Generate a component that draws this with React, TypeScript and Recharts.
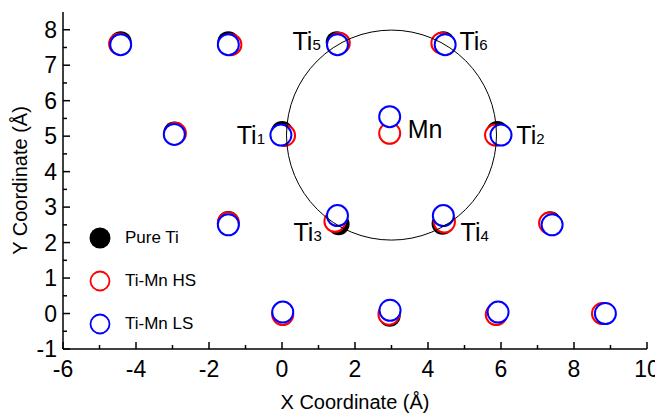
import React from 'react'
import { ScatterChart, Scatter, XAxis, YAxis, ReferenceDot } from 'recharts'

const pureTi = [
  { x: -4.42, y: 7.65 }, { x: -1.47, y: 7.65 }, { x: 1.5, y: 7.65 }, { x: 4.42, y: 7.65 },
  { x: -2.95, y: 5.1 }, { x: 0.0, y: 5.12 }, { x: 5.9, y: 5.12 },
  { x: -1.47, y: 2.58 }, { x: 1.55, y: 2.52 }, { x: 4.4, y: 2.53 }, { x: 7.35, y: 2.57 },
  { x: 0.02, y: 0.0 }, { x: 2.95, y: -0.06 }, { x: 5.88, y: 0.0 }, { x: 8.82, y: 0.0 },
]

const tiMnHS = [
  { x: -4.45, y: 7.6 }, { x: -1.4, y: 7.58 }, { x: 1.57, y: 7.62 }, { x: 4.38, y: 7.62 },
  { x: -2.92, y: 5.08 }, { x: 0.07, y: 5.02 }, { x: 2.95, y: 5.08 }, { x: 5.85, y: 5.03 },
  { x: -1.47, y: 2.56 }, { x: 1.45, y: 2.6 }, { x: 4.45, y: 2.58 }, { x: 7.33, y: 2.55 },
  { x: 0.02, y: -0.03 }, { x: 2.93, y: -0.02 }, { x: 5.87, y: -0.03 }, { x: 8.78, y: 0.0 },
]

const tiMnLS = [
  { x: -4.42, y: 7.58 }, { x: -1.47, y: 7.58 }, { x: 1.52, y: 7.58 }, { x: 4.47, y: 7.58 },
  { x: -2.95, y: 5.05 }, { x: -0.03, y: 5.03 }, { x: 2.95, y: 5.55 }, { x: 6.0, y: 5.03 },
  { x: -1.47, y: 2.5 }, { x: 1.52, y: 2.76 }, { x: 4.42, y: 2.76 }, { x: 7.4, y: 2.5 },
  { x: 0.02, y: 0.04 }, { x: 2.96, y: 0.09 }, { x: 5.92, y: 0.04 }, { x: 8.86, y: 0.0 },
]

// atom labels: name, subscript, anchor point, pixel offset of the text
const atomLabels = [
  { name: 'Ti', sub: '5', x: 1.5, y: 7.6, dx: -16, dy: 6, anchor: 'end' },
  { name: 'Ti', sub: '6', x: 4.45, y: 7.6, dx: 15, dy: 6, anchor: 'start' },
  { name: 'Ti', sub: '1', x: 0, y: 5.05, dx: -17, dy: 10, anchor: 'end' },
  { name: 'Mn', sub: '', x: 2.95, y: 5.08, dx: 18, dy: 5, anchor: 'start' },
  { name: 'Ti', sub: '2', x: 5.9, y: 5.05, dx: 19, dy: 10, anchor: 'start' },
  { name: 'Ti', sub: '3', x: 1.5, y: 2.6, dx: -15, dy: 20, anchor: 'end' },
  { name: 'Ti', sub: '4', x: 4.4, y: 2.6, dx: 18, dy: 20, anchor: 'start' },
]

const sphereCenter = { x: 3, y: 5.03 }

const xTicks = [-6, -5, -4, -3, -2, -1, 0, 1, 2, 3, 4, 5, 6, 7, 8, 9, 10]
const yTicks = [-1, -0.5, 0, 0.5, 1, 1.5, 2, 2.5, 3, 3.5, 4, 4.5, 5, 5.5, 6, 6.5, 7, 7.5, 8]

const legendItems = [
  { label: 'Pure Ti', color: '#000', filled: true },
  { label: 'Ti-Mn HS', color: '#ff0000', filled: false },
  { label: 'Ti-Mn LS', color: '#0000ff', filled: false },
]

const FONT = 'Arial, "Liberation Sans", Helvetica, sans-serif'

const makeTick = (side: string, isMajor: (v: number) => boolean, showLabel: boolean) => (props: any) => {
  const { x, y, payload } = props
  const v = payload.value
  const len = isMajor(v) ? 7 : 4
  let line
  let label = null
  if (side === 'bottom') {
    line = <line x1={x} y1={y} x2={x} y2={y - len} stroke="#000" strokeWidth={1.5} />
    if (showLabel && isMajor(v))
      label = <text x={x} y={y + 28} textAnchor="middle" fontSize={23} fontFamily={FONT}>{v}</text>
  } else if (side === 'top') {
    line = <line x1={x} y1={y} x2={x} y2={y + len} stroke="#000" strokeWidth={1.5} />
  } else if (side === 'left') {
    line = <line x1={x} y1={y} x2={x + len} y2={y} stroke="#000" strokeWidth={1.5} />
    if (showLabel && isMajor(v))
      label = <text x={x - 6} y={y + 8} textAnchor="end" fontSize={23} fontFamily={FONT}>{v}</text>
  } else {
    line = <line x1={x} y1={y} x2={x - len} y2={y} stroke="#000" strokeWidth={1.5} />
  }
  return <g>{line}{label}</g>
}

const evenX = (v: number) => v % 2 === 0
const intY = (v: number) => Number.isInteger(v)

const openDot = (color: string) => (p: any) => (
  <circle cx={p.cx} cy={p.cy} r={10.5} fill="#fff" stroke={color} strokeWidth={2} />
)
const filledDot = (p: any) => <circle cx={p.cx} cy={p.cy} r={11} fill="#000" />

export default function App() {
  return (
    <div style={{ position: 'relative', width: 655, height: 406 }}>
      <ScatterChart width={655} height={406} margin={{ top: 4, right: 16, bottom: 5, left: 0 }}>
        <XAxis
          xAxisId="b" type="number" dataKey="x" domain={[-6, 10]} ticks={xTicks} interval={0}
          height={60} tickSize={0} tickMargin={0} stroke="#000" strokeWidth={1.5}
          tick={makeTick('bottom', evenX, true)}
          label={{ value: 'X Coordinate (Å)', position: 'insideBottom', offset: 0, fontSize: 20, fontFamily: FONT, fill: '#000' }}
        />
        <XAxis
          xAxisId="t" orientation="top" type="number" dataKey="x" domain={[-6, 10]} ticks={xTicks} interval={0}
          height={0} tickSize={0} tickMargin={0} stroke="#000" strokeWidth={1.5}
          tick={makeTick('top', evenX, false)}
        />
        <YAxis
          yAxisId="l" type="number" dataKey="y" domain={[-1, 8.5]} ticks={yTicks} interval={0}
          width={55} tickSize={0} tickMargin={0} stroke="#000" strokeWidth={1.5}
          tick={makeTick('left', intY, true)}
          label={{ value: 'Y Coordinate (Å)', angle: -90, position: 'insideLeft', offset: 12, fontSize: 20, fontFamily: FONT, fill: '#000', style: { textAnchor: 'middle' } }}
        />
        <YAxis
          yAxisId="r" orientation="right" type="number" dataKey="y" domain={[-1, 8.5]} ticks={yTicks} interval={0}
          width={0} tickSize={0} tickMargin={0} stroke="#000" strokeWidth={1.5}
          tick={makeTick('right', intY, false)}
        />
        <Scatter name="Pure Ti" data={pureTi} xAxisId="b" yAxisId="l" shape={filledDot} isAnimationActive={false} />
        <Scatter name="Ti-Mn HS" data={tiMnHS} xAxisId="b" yAxisId="l" shape={openDot('#ff0000')} isAnimationActive={false} />
        <Scatter name="Ti-Mn LS" data={tiMnLS} xAxisId="b" yAxisId="l" shape={openDot('#0000ff')} isAnimationActive={false} />
        <ReferenceDot
          xAxisId="b" yAxisId="l" x={sphereCenter.x} y={sphereCenter.y} r={105}
          fill="none" stroke="#000" strokeWidth={1}
        />
        {atomLabels.map((a, i) => (
          <ReferenceDot
            key={i} xAxisId="b" yAxisId="l" x={a.x} y={a.y} r={0}
            shape={(p: any) => (
              <text x={p.cx + a.dx} y={p.cy + a.dy} textAnchor={a.anchor as any} fontSize={25} fontFamily={FONT} fill="#000">
                {a.name}
                {a.sub && <tspan fontSize={15}>{a.sub}</tspan>}
              </text>
            )}
          />
        ))}
      </ScatterChart>
      <div style={{ position: 'absolute', left: 80, top: 208, fontFamily: FONT, fontSize: 17 }}>
        {legendItems.map((it) => (
          <div key={it.label} style={{ display: 'flex', alignItems: 'center', height: 43 }}>
            <svg width={24} height={24} style={{ marginRight: 13 }}>
              {it.filled ? (
                <circle cx={12} cy={12} r={10.5} fill={it.color} />
              ) : (
                <circle cx={12} cy={12} r={9.5} fill="none" stroke={it.color} strokeWidth={1.8} />
              )}
            </svg>
            <span>{it.label}</span>
          </div>
        ))}
      </div>
    </div>
  )
}
